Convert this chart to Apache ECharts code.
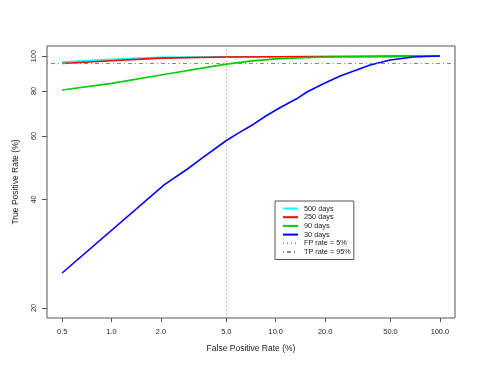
<!DOCTYPE html>
<html>
<head>
<meta charset="utf-8">
<script src="https://cdn.jsdelivr.net/npm/echarts@6/dist/echarts.min.js"></script>
<style>
  html, body { margin: 0; padding: 0; background: #fff; }
  #chart { width: 485px; height: 374px; }
</style>
</head>
<body>
<div id="chart"></div>
<script>
// ROC curves, log-log axes
var xTicks = [0.5, 1, 2, 5, 10, 20, 50, 100];
var yTicks = [20, 40, 60, 80, 100];

var fpr500 = [0.5, 1, 2, 5, 10, 20, 50, 100];
var tpr500 = [96.2, 97.9, 99.2, 99.5, 99.6, 99.7, 99.8, 100];

var fpr250 = [0.5, 1, 2, 5, 10, 20, 50, 100];
var tpr250 = [95.4, 97.1, 98.7, 99.4, 99.6, 99.7, 99.8, 100];

var fpr90 = [0.5, 1, 2, 5, 7, 10, 15, 20, 30, 50, 100];
var tpr90 = [80.5, 84.0, 88.6, 95.0, 96.8, 98.2, 99.0, 99.4, 99.6, 99.8, 100];

var fpr30 = [0.5, 2.1, 2.9, 3.46, 5.03, 6.06, 7.3, 8.8, 10.6, 13.4, 15.5, 19.5, 24.7, 37.6, 49.8, 69, 100];
var tpr30 = [25.0, 44.0, 48.6, 51.6, 58.4, 61.5, 64.6, 68.4, 71.9, 76.1, 79.5, 83.8, 88.0, 94.4, 97.5, 99.4, 100];

var fpRate = 5;
var tpRate = 95;

function toLog(fpr, tpr) {
    return fpr.map(function (f, i) { return [Math.log10(f), Math.log10(tpr[i])]; });
}

// R-style 4% padding on log range
var xlo = Math.log10(0.5), xhi = Math.log10(100);
var ylo = Math.log10(20), yhi = Math.log10(100);
var xpad = (xhi - xlo) * 0.04, ypad = (yhi - ylo) * 0.04;

var axisColor = '#555';
var textColor = '#222';
var font = 'Liberation Sans, Arial, sans-serif';

function curve(name, color, fpr, tpr) {
    return {
        name: name,
        type: 'line',
        data: toLog(fpr, tpr),
        symbol: 'none',
        lineStyle: { color: color, width: 1.6 },
        itemStyle: { color: color }
    };
}

var chart = echarts.init(document.getElementById('chart'));
var option = {
    animation: false,
    backgroundColor: '#fff',
    textStyle: { fontFamily: font },
    grid: {
        left: 47, right: 30, top: 46, bottom: 56,
        show: true, borderColor: axisColor, borderWidth: 1
    },
    legend: {
        orient: 'vertical',
        left: 275, top: 201,
        data: ['500 days', '250 days', '90 days', '30 days', 'FP rate = 5%', 'TP rate = 95%'],
        itemWidth: 15, itemHeight: 7, itemGap: 1.7,
        padding: [4, 3, 4, 7],
        borderColor: axisColor, borderWidth: 1, borderRadius: 0,
        backgroundColor: '#fff',
        selectedMode: false,
        itemStyle: { opacity: 0 },
        textStyle: { fontSize: 7.3, lineHeight: 7, color: textColor, fontFamily: font, padding: [0, 0, 0, 1] }
    },
    xAxis: {
        type: 'value',
        min: xlo - xpad, max: xhi + xpad,
        name: 'False Positive Rate (%)',
        nameLocation: 'middle', nameGap: 26,
        nameTextStyle: { fontSize: 8.5, color: textColor, fontFamily: font },
        axisLine: { show: false, onZero: false },
        splitLine: { show: false },
        axisTick: {
            show: true, length: 4, inside: false,
            customValues: xTicks.map(Math.log10),
            lineStyle: { color: axisColor }
        },
        axisLabel: {
            customValues: xTicks.map(Math.log10),
            margin: 10, fontSize: 7.4, color: textColor, fontFamily: font,
            formatter: function (v) { return Math.pow(10, v).toFixed(1); }
        }
    },
    yAxis: {
        type: 'value',
        min: ylo - ypad, max: yhi + ypad,
        name: 'True Positive Rate (%)',
        nameLocation: 'middle', nameGap: 27,
        nameTextStyle: { fontSize: 8.5, color: textColor, fontFamily: font },
        axisLine: { show: false, onZero: false },
        splitLine: { show: false },
        axisTick: {
            show: true, length: 5, inside: false,
            customValues: yTicks.map(Math.log10),
            lineStyle: { color: axisColor }
        },
        axisLabel: {
            customValues: yTicks.map(Math.log10),
            rotate: 90, margin: 10, fontSize: 7.4, color: textColor, fontFamily: font,
            formatter: function (v) { return String(Math.round(Math.pow(10, v))); }
        }
    },
    series: [
        curve('500 days', '#00ffff', fpr500, tpr500),
        curve('250 days', '#ff0000', fpr250, tpr250),
        curve('90 days', '#00cd00', fpr90, tpr90),
        curve('30 days', '#0000ff', fpr30, tpr30),
        {
            name: 'FP rate = 5%',
            type: 'line',
            data: [],
            symbol: 'none',
            z: 1,
            lineStyle: { color: '#999', width: 1, type: [1, 3] },
            itemStyle: { color: '#999' },
            markLine: {
                silent: true,
                symbol: ['none', 'none'],
                label: { show: false },
                lineStyle: { color: '#999', width: 1, type: [1, 3] },
                data: [{ xAxis: Math.log10(fpRate) }]
            }
        },
        {
            name: 'TP rate = 95%',
            type: 'line',
            data: [],
            symbol: 'none',
            z: 1,
            lineStyle: { color: '#888', width: 1, type: [1, 3, 4, 3] },
            itemStyle: { color: '#888' },
            markLine: {
                silent: true,
                symbol: ['none', 'none'],
                label: { show: false },
                lineStyle: { color: '#888', width: 1, type: [1, 3, 4, 3] },
                data: [{ yAxis: Math.log10(tpRate) }]
            }
        }
    ]
};
chart.setOption(option);
</script>
</body>
</html>
